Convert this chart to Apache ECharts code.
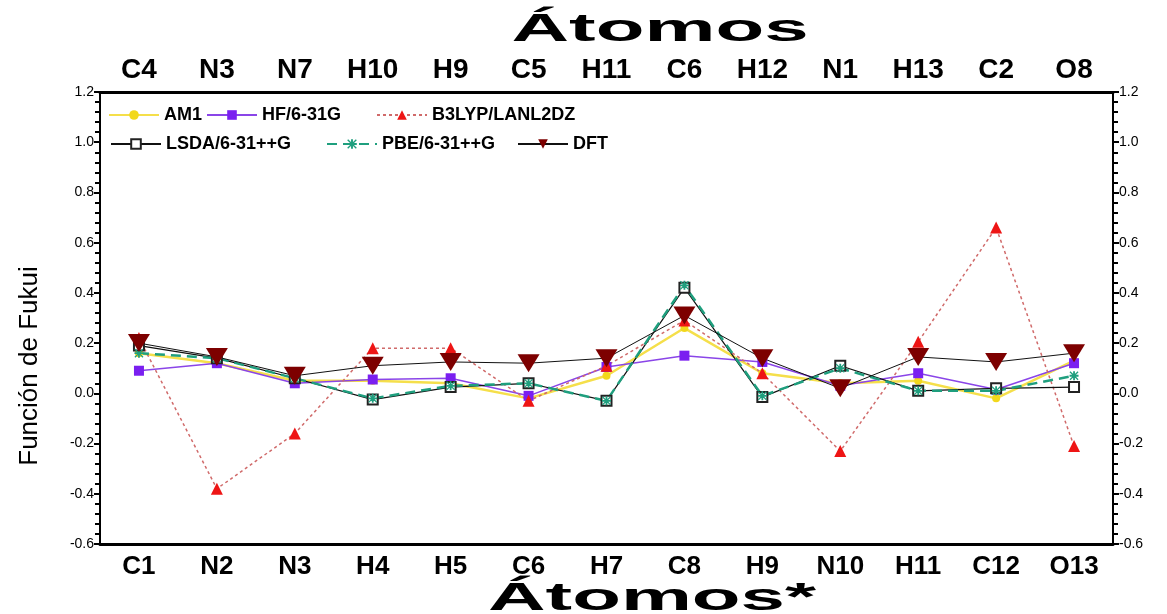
<!DOCTYPE html>
<html>
<head>
<meta charset="utf-8">
<script src="https://cdn.jsdelivr.net/npm/echarts@6/dist/echarts.min.js"></script>
<style>
  html, body { margin: 0; padding: 0; background: #fff; }
  #chart { width: 1167px; height: 614px; }
</style>
</head>
<body>
<div id="chart"></div>
<script>
// átomos (eje inferior y superior)
const atomsBottom = ['C1', 'N2', 'N3', 'H4', 'H5', 'C6', 'H7', 'C8', 'H9', 'N10', 'H11', 'C12', 'O13'];
const atomsTop = ['C4', 'N3', 'N7', 'H10', 'H9', 'C5', 'H11', 'C6', 'H12', 'N1', 'H13', 'C2', 'O8'];

// función de Fukui por método
const am1 = [0.16, 0.12, 0.05, 0.05, 0.04, -0.02, 0.07, 0.26, 0.08, 0.04, 0.05, -0.02, 0.13];
const hf = [0.09, 0.12, 0.04, 0.055, 0.06, -0.01, 0.105, 0.15, 0.125, 0.03, 0.08, 0.015, 0.12];
const b3lyp = [0.22, -0.38, -0.16, 0.18, 0.18, -0.03, 0.11, 0.29, 0.08, -0.23, 0.205, 0.66, -0.21];
const lsda = [0.19, 0.14, 0.06, -0.025, 0.025, 0.04, -0.03, 0.42, -0.015, 0.11, 0.01, 0.02, 0.025];
const pbe = [0.16, 0.14, 0.06, -0.02, 0.03, 0.04, -0.03, 0.43, -0.01, 0.10, 0.01, 0.01, 0.07];
const dft = [0.20, 0.145, 0.07, 0.11, 0.125, 0.12, 0.14, 0.31, 0.14, 0.02, 0.145, 0.125, 0.16];

const FONT = 'Liberation Sans, Arial, sans-serif';
const asterisk = 'path://M4,0H6V4H10V6H6V10H4V6H0V4H4Z M1,0L5,4L9,0L10,1L6,5L10,9L9,10L5,6L1,10L0,9L4,5L0,1Z';

const chart = echarts.init(document.getElementById('chart'));

const legendText = { fontFamily: FONT, fontSize: 18, fontWeight: 'bold', color: '#000' };
const mkLegend = (name, left, top) => ({
    data: [name], left: left, top: top, padding: 0,
    itemWidth: 50, itemHeight: 12, textStyle: legendText
});

const yAxisBase = {
    type: 'value', min: -0.6, max: 1.2, interval: 0.2,
    splitLine: { show: false },
    axisLine: { show: true, lineStyle: { color: '#000', width: 2 } },
    axisTick: { show: true, length: 6, lineStyle: { color: '#000', width: 2 } },
    minorTick: { show: true, splitNumber: 5, length: 5, lineStyle: { color: '#000', width: 2 } },
    axisLabel: { fontFamily: FONT, fontSize: 14, color: '#000', margin: 6,
        formatter: v => v.toFixed(1) }
};

const option = {
    backgroundColor: '#fff',
    animation: false,
    grid: { left: 100, right: 54, top: 92, bottom: 70 },
    legend: [
        mkLegend('AM1', 108, 106),
        mkLegend('HF/6-31G', 206, 106),
        mkLegend('B3LYP/LANL2DZ', 376, 106),
        mkLegend('LSDA/6-31++G', 110, 135),
        mkLegend('PBE/6-31++G', 326, 135),
        mkLegend('DFT', 517, 135)
    ],
    xAxis: [
        {
            type: 'category', data: atomsBottom, position: 'bottom', boundaryGap: true,
            axisLine: { onZero: false, lineStyle: { color: '#000', width: 3 } },
            axisTick: { alignWithLabel: true, length: 8, lineStyle: { color: '#000', width: 2 } },
            axisLabel: { fontFamily: FONT, fontSize: 26, fontWeight: 'bold', color: '#000', margin: 10 }
        },
        {
            type: 'category', data: atomsTop, position: 'top', boundaryGap: true,
            axisLine: { onZero: false, lineStyle: { color: '#000', width: 3 } },
            axisTick: { alignWithLabel: true, length: 10, lineStyle: { color: '#000', width: 2 } },
            axisLabel: { fontFamily: FONT, fontSize: 28, fontWeight: 'bold', color: '#000', margin: 8 }
        }
    ],
    yAxis: [
        Object.assign({ position: 'left' }, yAxisBase),
        Object.assign({ position: 'right' }, yAxisBase)
    ],
    graphic: [
        {
            type: 'text', x: 660, y: 31, scaleX: 2.1,
            style: { text: 'Átomos', font: 'bold 38px ' + FONT, fill: '#000',
                align: 'center', verticalAlign: 'middle' }
        },
        {
            type: 'text', x: 652, y: 600, scaleX: 2.1,
            style: { text: 'Átomos*', font: 'bold 38px ' + FONT, fill: '#000',
                align: 'center', verticalAlign: 'middle' }
        },
        {
            type: 'text', x: 30, y: 366, rotation: Math.PI / 2,
            style: { text: 'Función de Fukui', font: '26px ' + FONT, fill: '#000',
                align: 'center', verticalAlign: 'middle' }
        }
    ],
    series: [
        {
            name: 'AM1', type: 'line', data: am1, symbol: 'circle', symbolSize: 8,
            itemStyle: { color: '#f2d81c' },
            lineStyle: { color: '#f5df4a', width: 2.5 }
        },
        {
            name: 'HF/6-31G', type: 'line', data: hf, symbol: 'rect', symbolSize: 10,
            itemStyle: { color: '#7a1ff0' },
            lineStyle: { color: '#8a45e8', width: 1.5 }
        },
        {
            name: 'B3LYP/LANL2DZ', type: 'line', data: b3lyp, symbol: 'triangle', symbolSize: 12,
            itemStyle: { color: '#ee1515' },
            lineStyle: { color: '#d06a6a', width: 1.5, type: [3, 3] }
        },
        {
            name: 'LSDA/6-31++G', type: 'line', data: lsda, symbol: 'emptyRect', symbolSize: 10,
            itemStyle: { color: '#222', borderWidth: 1.2 },
            lineStyle: { color: '#111', width: 1.2 }
        },
        {
            name: 'PBE/6-31++G', type: 'line', data: pbe, symbol: asterisk, symbolSize: 9,
            itemStyle: { color: '#1f9f7e' },
            lineStyle: { color: '#1f9f7e', width: 2.5, type: [10, 6] }
        },
        {
            name: 'DFT', type: 'line', data: dft, symbol: 'triangle', symbolRotate: 180,
            symbolSize: [22, 18],
            itemStyle: { color: '#7d0000' },
            lineStyle: { color: '#111', width: 1 }
        }
    ]
};

chart.setOption(option);
</script>
</body>
</html>
